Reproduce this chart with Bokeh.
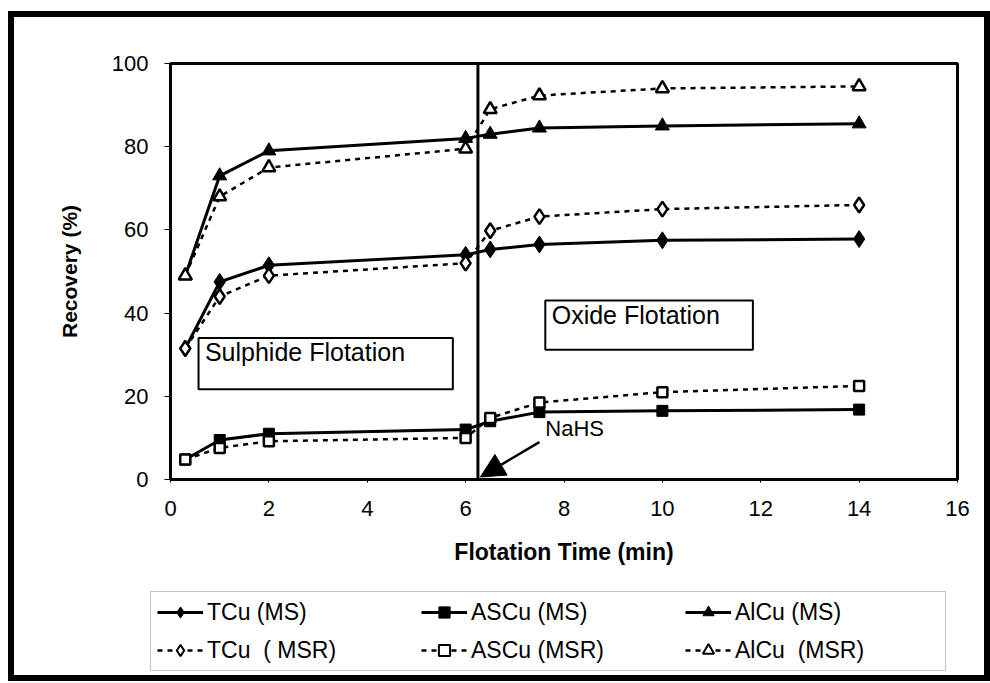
from bokeh.plotting import figure
from bokeh.models import (Range1d, Span, BoxAnnotation, Label, Arrow, NormalHead,
                          Legend, LegendItem, FixedTicker)
from bokeh.embed import file_html
from bokeh.resources import INLINE

# ---- data ----
time_min = [0.3, 1, 2, 6, 6.5, 7.5, 10, 14]
tcu_ms = [31.5, 47.5, 51.5, 54.0, 55.3, 56.5, 57.5, 57.8]
ascu_ms = [4.8, 9.5, 11.0, 12.0, 14.0, 16.2, 16.5, 16.8]
alcu_ms = [49.0, 73.0, 79.0, 82.0, 83.0, 84.5, 85.0, 85.5]
tcu_msr = [31.5, 44.0, 49.0, 52.0, 59.8, 63.2, 65.0, 66.0]
ascu_msr = [4.8, 7.6, 9.2, 10.0, 14.8, 18.5, 21.0, 22.5]
alcu_msr = [49.0, 68.0, 75.0, 79.5, 89.0, 92.3, 94.0, 94.5]

labels_ms = ["TCu (MS)", "ASCu (MS)", "AlCu (MS)"]
labels_msr = ["TCu  ( MSR)", "ASCu (MSR)", "AlCu  (MSR)"]
x_ticks = [0, 2, 4, 6, 8, 10, 12, 14, 16]
y_ticks = [0, 20, 40, 60, 80, 100]

FONT = "Liberation Sans"
BORDER = "6px solid black"

# ---------------- main chart ----------------
p = figure(width=982, height=562, output_backend="svg", toolbar_location=None,
           x_range=Range1d(0, 16), y_range=Range1d(0, 100),
           min_border_left=156, min_border_right=39, min_border_top=46,
           min_border_bottom=100)
p.styles = {"margin-left": "8px", "margin-top": "11px", "border-left": BORDER,
            "border-right": BORDER, "border-top": BORDER}
p.background_fill_color = "white"
p.border_fill_color = "white"
p.grid.visible = False
p.outline_line_color = "black"
p.outline_line_width = 3

p.xaxis.ticker = FixedTicker(ticks=x_ticks)
p.yaxis.ticker = FixedTicker(ticks=y_ticks)
for ax in (p.xaxis[0], p.yaxis[0]):
    ax.axis_line_color = "black"
    ax.axis_line_width = 3
    ax.major_tick_in = 0
    ax.minor_tick_line_color = None
    ax.major_label_text_font = FONT
    ax.major_label_text_font_size = "22px"
    ax.major_label_text_color = "black"
    ax.axis_label_text_font = FONT
    ax.axis_label_text_font_style = "bold"
    ax.axis_label_text_color = "black"
p.xaxis.major_tick_out = 3
p.xaxis.major_label_standoff = 18
p.xaxis.axis_label = "Flotation Time (min)"
p.xaxis.axis_label_text_font_size = "23px"
p.xaxis.axis_label_standoff = 20
p.yaxis.major_tick_out = 6
p.yaxis.major_label_standoff = 16
p.yaxis.axis_label = "Recovery (%)"
p.yaxis.axis_label_text_font_size = "21px"
p.yaxis.axis_label_standoff = 28

ms_series = [(tcu_ms, "diamond", 17), (ascu_ms, "square", 11), (alcu_ms, "triangle", 14)]
msr_series = [(tcu_msr, "diamond", 15), (ascu_msr, "square", 10), (alcu_msr, "triangle", 13)]
MS_LINE = dict(line_color="black", line_width=3)
MSR_LINE = dict(line_color="black", line_width=2.5, line_dash="5 5")

for ys, mk, sz in ms_series:
    p.line(time_min, ys, **MS_LINE)
    p.scatter(time_min, ys, marker=mk, size=sz, fill_color="black", line_color="black")
for ys, mk, sz in msr_series:
    p.line(time_min, ys, **MSR_LINE)
    p.scatter(time_min, ys, marker=mk, size=sz, fill_color="white",
              line_color="black", line_width=2.5)

# stage divider
p.add_layout(Span(location=6.25, dimension="height", line_color="black", line_width=3))

# annotation boxes
for l, r, b, t in [(0.57, 5.74, 21.7, 34.0), (7.62, 11.84, 31.2, 43.0)]:
    p.add_layout(BoxAnnotation(left=l, right=r, bottom=b, top=t,
                               fill_color="white", fill_alpha=1, line_color="black",
                               line_alpha=1, line_width=2, level="overlay"))
p.add_layout(Label(x=0.7, y=33.9, text="Sulphide Flotation", text_baseline="top",
                   text_font=FONT, text_font_size="25px", text_color="black", level="overlay"))
p.add_layout(Label(x=7.75, y=42.9, text="Oxide Flotation", text_baseline="top",
                   text_font=FONT, text_font_size="25px", text_color="black", level="overlay"))

# NaHS arrow
p.add_layout(Arrow(end=NormalHead(size=24, fill_color="black", line_color="black"),
                   x_start=7.5, y_start=9.0, x_end=6.3, y_end=0.6,
                   line_color="black", line_width=2.5))
p.add_layout(Label(x=7.62, y=15.2, text="NaHS", text_baseline="top",
                   text_font=FONT, text_font_size="22px", text_color="black"))

# ---------------- legend strip (same series; ranges keep them off-frame) ----------------
q = figure(width=982, height=108, output_backend="svg", toolbar_location=None,
           x_range=Range1d(0, 1), y_range=Range1d(-2, -1),
           min_border=0, min_border_left=0, min_border_right=0,
           min_border_top=0, min_border_bottom=0)
q.styles = {"margin-left": "8px", "border-left": BORDER, "border-right": BORDER,
            "border-bottom": BORDER}
q.axis.visible = False
q.grid.visible = False
q.outline_line_color = None
q.background_fill_color = "white"
q.border_fill_color = "white"

items = []
for (ys, mk, sz), lab in zip(ms_series, labels_ms):
    ln = q.line(time_min, ys, **MS_LINE)
    sc = q.scatter(time_min, ys, marker=mk, size=sz - 2, fill_color="black", line_color="black")
    items.append(LegendItem(label=lab, renderers=[ln, sc]))
for (ys, mk, sz), lab in zip(msr_series, labels_msr):
    ln = q.line(time_min, ys, **MSR_LINE)
    sc = q.scatter(time_min, ys, marker=mk, size=sz - 2, fill_color="white",
                   line_color="black", line_width=2)
    items.append(LegendItem(label=lab, renderers=[ln, sc]))

legend = Legend(items=items, orientation="horizontal", ncols=3,
                location=(136, 10), border_line_color="#888888", border_line_width=1,
                background_fill_color="white", background_fill_alpha=1,
                label_text_font=FONT, label_text_font_size="23px", label_text_color="black",
                glyph_width=46, glyph_height=28, label_height=28, label_width=204,
                label_standoff=4, spacing=10, padding=6, margin=0)
q.add_layout(legend, "center")

open("out.html", "w").write(file_html([p, q], INLINE))
